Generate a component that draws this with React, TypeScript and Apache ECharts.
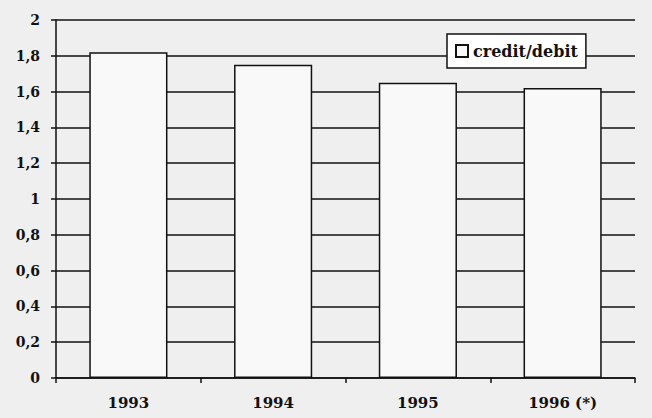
import React, { useEffect, useRef } from "react";
import * as echarts from "echarts";

const categories = ["1993", "1994", "1995", "1996 (*)"];
const creditDebit = [1.82, 1.75, 1.65, 1.62];
const seriesName = "credit/debit";

export default function App() {
  const ref = useRef<HTMLDivElement>(null);
  useEffect(() => {
    document.body.style.margin = "0";
    const chart = echarts.init(ref.current!, null, { renderer: "svg" });
    const font = "DejaVu Serif";
    chart.setOption({
      animation: false,
      backgroundColor: "#efefef",
      textStyle: { fontFamily: font },
      grid: { left: 56, right: 17, top: 20, bottom: 40 },
      legend: {
        data: [seriesName],
        left: 447,
        top: 34,
        backgroundColor: "#ffffff",
        borderColor: "#111",
        borderWidth: 1.5,
        padding: [9, 8, 9, 8],
        itemWidth: 12,
        itemHeight: 12,
        itemGap: 4,
        icon: "rect",
        textStyle: { fontFamily: font, fontWeight: "bold", fontSize: 16, color: "#111" },
      },
      xAxis: {
        type: "category",
        data: categories,
        axisLine: { lineStyle: { color: "#111", width: 1.5 } },
        axisTick: { show: true, inside: false, length: 5, lineStyle: { color: "#111", width: 1.5 } },
        axisLabel: { fontFamily: font, fontWeight: "bold", fontSize: 15, color: "#111", margin: 17 },
      },
      yAxis: {
        type: "value",
        min: 0,
        max: 2,
        interval: 0.2,
        axisLine: { show: true, lineStyle: { color: "#111", width: 1.5 } },
        axisTick: { show: true, length: 5, lineStyle: { color: "#111", width: 1.5 } },
        splitLine: { show: true, lineStyle: { color: "#111", width: 1.5 } },
        axisLabel: {
          fontFamily: font,
          fontWeight: "bold",
          fontSize: 14,
          color: "#111",
          margin: 16,
          formatter: (v: number) => String(Math.round(v * 10) / 10).replace(".", ","),
        },
      },
      series: [
        {
          name: seriesName,
          type: "bar",
          data: creditDebit,
          barWidth: "54%",
          itemStyle: { color: "#f9f9f9", borderColor: "#111", borderWidth: 1.5 },
        },
      ],
    });
    return () => chart.dispose();
  }, []);
  return <div ref={ref} style={{ width: 652, height: 418, position: "fixed", left: 0, top: 0 }} />;
}
